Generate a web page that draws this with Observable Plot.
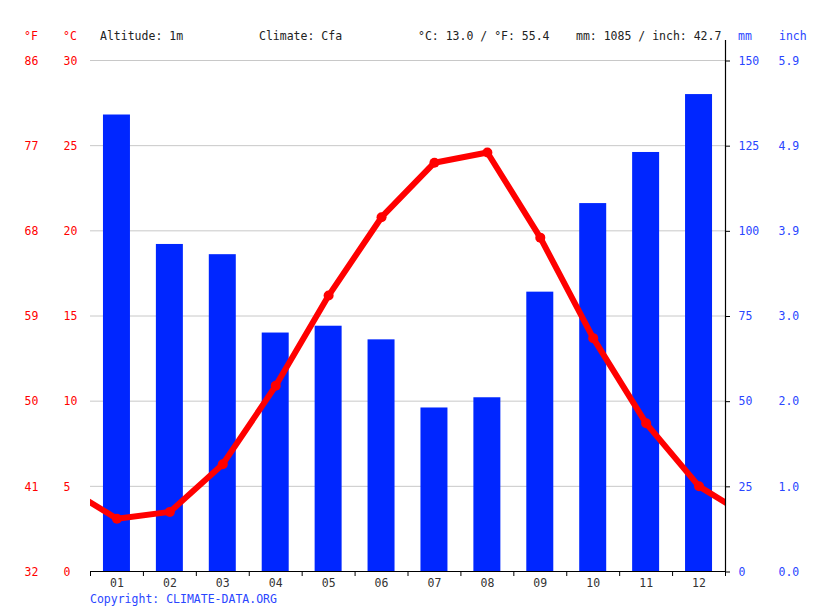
<!DOCTYPE html>
<html><head><meta charset="utf-8">
<script src="https://cdn.jsdelivr.net/npm/d3@7"></script>
<script src="https://cdn.jsdelivr.net/npm/@observablehq/plot@0.6"></script>
<style>
body{margin:0;background:#fff;}
#wrap{position:relative;width:815px;height:611px;font-family:"DejaVu Sans Mono",monospace;font-size:11.5px;}
.lbl{position:absolute;white-space:pre;line-height:1;}
</style></head><body><div id="wrap"></div>
<script>
// Data
const months = ["01","02","03","04","05","06","07","08","09","10","11","12"];
const precipitationMm = [134, 96, 93, 70, 72, 68, 48, 51, 82, 108, 123, 140];
const temperatureC = [3.1, 3.5, 6.3, 10.9, 16.2, 20.8, 24.0, 24.6, 19.6, 13.7, 8.7, 5.0];
const celsiusTicks = [0, 5, 10, 15, 20, 25, 30];
const headerTexts = ["Altitude: 1m", "Climate: Cfa", "°C: 13.0 / °F: 55.4", "mm: 1085 / inch: 42.7"];
const copyrightText = "Copyright: CLIMATE-DATA.ORG";

const mmPerDegree = 5; // 150 mm ↔ 30 °C
const red = "#ff0000", blue = "#0026ff", textBlue = "#2a46ff";

const monthIndex = months.map((m, i) => i + 1);
const bars = months.map((m, i) => ({m: i + 1, mm: precipitationMm[i]}));
const temps = months.map((m, i) => ({m: i + 1, t: temperatureC[i]}));
// wrap around: previous December and following January drawn beyond the edges (clipped)
const lineData = [{m: 0, t: temperatureC[11]}, ...temps, {m: 13, t: temperatureC[0]}];
const boundaries = [...monthIndex.map(m => m - 0.5), 12.5];

const chart = Plot.plot({
  width: 815, height: 611,
  marginLeft: 90, marginRight: 90, marginTop: 60, marginBottom: 40,
  style: {fontFamily: "'DejaVu Sans Mono', monospace", fontSize: "11.5px", background: "white", overflow: "visible"},
  x: {type: "linear", domain: [0.5, 12.5]},
  y: {domain: [0, 30]},
  marks: [
    Plot.gridY(celsiusTicks.filter(d => d > 0), {stroke: "#c8c8c8", strokeOpacity: 1, strokeWidth: 1}),
    Plot.rectY(bars, {x1: d => d.m - 0.255, x2: d => d.m + 0.255, y1: 0, y2: d => d.mm / mmPerDegree, fill: blue}),
    Plot.line(lineData, {x: "m", y: "t", stroke: red, strokeWidth: 6, clip: true}),
    Plot.dot(temps, {x: "m", y: "t", r: 5, fill: red}),
    Plot.ruleY([0], {stroke: "black", strokeWidth: 1.2}),
    Plot.ruleX([12.5], {stroke: "black", strokeWidth: 1.2, insetTop: -20}),
    Plot.axisX({ticks: boundaries, tickFormat: () => "", tickSize: 5, stroke: "black", label: null}),
    Plot.axisX({ticks: monthIndex, tickFormat: m => months[m - 1], tickSize: 0, tickPadding: 7, fill: "#333", label: null}),
    Plot.axisY({ticks: celsiusTicks, anchor: "left", tickSize: 0, tickPadding: 27, textAnchor: "start", fill: red, label: null, dy: 0.5}),
    Plot.axisY({ticks: celsiusTicks, anchor: "left", tickSize: 0, tickPadding: 66, textAnchor: "start", fill: red, label: null, dy: 0.5, tickFormat: c => String(Math.round(c * 9 / 5 + 32))}),
    Plot.axisY({ticks: celsiusTicks, anchor: "right", tickSize: 4, tickPadding: 9, stroke: "black", fill: textBlue, label: null, dy: 0.5, tickFormat: c => String(c * mmPerDegree)}),
    Plot.axisY({ticks: celsiusTicks, anchor: "right", tickSize: 0, tickPadding: 53, fill: textBlue, label: null, dy: 0.5, tickFormat: c => (c * mmPerDegree / 25.4).toFixed(1)})
  ]
});
const wrap = document.getElementById("wrap");
wrap.appendChild(chart);

function label(text, left, top, color) {
  const s = document.createElement("span");
  s.className = "lbl";
  s.textContent = text;
  s.style.left = left + "px";
  s.style.top = top + "px";
  s.style.color = color;
  wrap.appendChild(s);
}
label("°F", 24, 31, red);
label("°C", 63, 31, red);
label(headerTexts[0], 100, 31, "#222");
label(headerTexts[1], 259, 31, "#222");
label(headerTexts[2], 418, 31, "#222");
label(headerTexts[3], 576, 31, "#222");
label("mm", 738, 31, textBlue);
label("inch", 779, 31, textBlue);
label(copyrightText, 90, 594, textBlue);
</script></body></html>
